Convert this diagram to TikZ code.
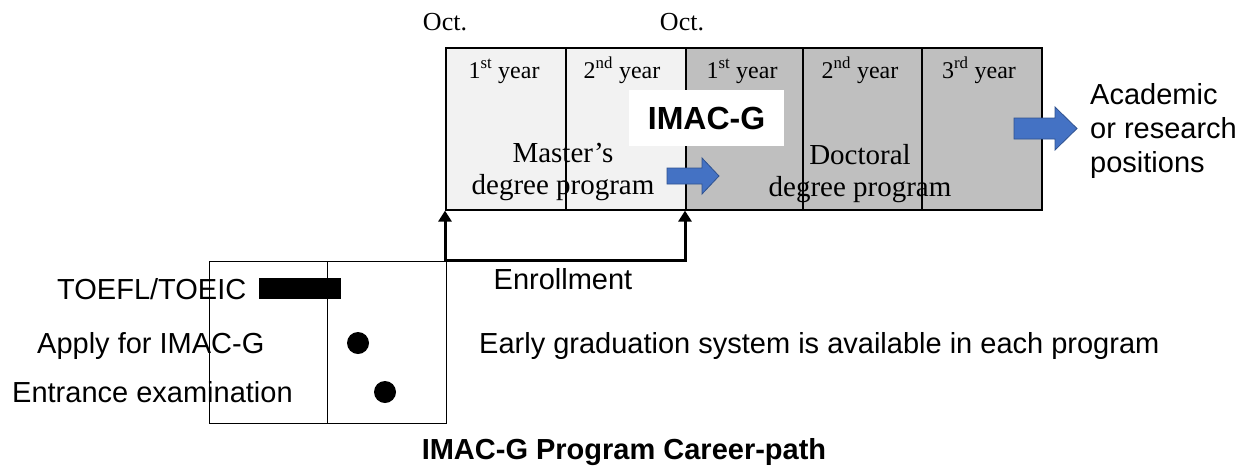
\documentclass[tikz,border=0pt]{standalone}
\usepackage{fontspec}
\setmainfont{Liberation Sans}
\newfontfamily\tnr{Liberation Serif}
\usetikzlibrary{arrows.meta}
\definecolor{msfill}{HTML}{F2F2F2}
\definecolor{drfill}{HTML}{BFBFBF}
\definecolor{blueA}{HTML}{4472C4}
\definecolor{blueB}{HTML}{2F528F}
\tikzset{
  col/.style={draw=black, line width=1.6pt, inner sep=0pt, minimum height=162pt, anchor=north west},
  lbox/.style={draw=black, line width=1.3pt, inner sep=0pt, minimum height=162pt, anchor=north west},
  yr/.style={font=\tnr\fontsize{24}{28}\selectfont, anchor=base, inner sep=0pt},
  oct/.style={font=\tnr\fontsize{26}{30}\selectfont, anchor=base, inner sep=0pt},
  prog/.style={font=\tnr\fontsize{29}{32}\selectfont, align=center, inner sep=0pt},
  sans/.style={font=\fontsize{29}{34}\selectfont, inner sep=0pt},
  dot/.style={circle, fill=black, minimum size=22pt, inner sep=0pt},
  blockarrow/.style={fill=blueA, draw=blueB, line width=0.8pt},
  enroll/.style={line width=3pt, {Triangle[width=13pt,length=11pt]}-{Triangle[width=13pt,length=11pt]}},
}
\begin{document}
\begin{tikzpicture}[x=1pt,y=-1pt]
\useasboundingbox (0,0) rectangle (1249,472);
% top timeline
\node[col, fill=msfill, minimum width=120pt] (m1) at (445,47) {};
\node[col, fill=msfill, minimum width=120pt] (m2) at (565,47) {};
\node[col, fill=drfill, minimum width=117pt] (d1) at (685,47) {};
\node[col, fill=drfill, minimum width=119pt] (d2) at (802,47) {};
\node[col, fill=drfill, minimum width=120pt] (d3) at (921,47) {};
\node[oct] (oct1) at (445,30) {Oct.};
\node[oct] (oct2) at (682,30) {Oct.};
\node[yr] (y1) at (504,78) {1\textsuperscript{st} year};
\node[yr] (y2) at (622,78) {2\textsuperscript{nd} year};
\node[yr] (y3) at (742,78) {1\textsuperscript{st} year};
\node[yr] (y4) at (860,78) {2\textsuperscript{nd} year};
\node[yr] (y5) at (979,78) {3\textsuperscript{rd} year};
\node[fill=white, minimum width=155pt, minimum height=56pt, inner sep=0pt,
      font=\bfseries\fontsize{32}{36}\selectfont] (imac) at (706.5,118) {IMAC-G};
\node[prog] (master) at (563,172) {Master’s\\degree program};
\node[prog] (doctor) at (860,174) {Doctoral\\degree program};
\fill[blockarrow] (667,168) -- (702,168) -- (702,158) -- (719,176) -- (702,194) -- (702,184) -- (667,184) -- cycle;
\fill[blockarrow] (1014,118) -- (1055,118) -- (1055,107) -- (1077,128.5) -- (1055,150) -- (1055,139) -- (1014,139) -- cycle;
\node[sans, align=left, anchor=west] (career) at (1090,131) {Academic\\or research\\positions};
% lower schedule box
\node[lbox, minimum width=118pt] (t1) at (209,261) {};
\node[lbox, minimum width=119pt] (t2) at (327,261) {};
\node[fill=black, inner sep=0pt, minimum width=82pt, minimum height=21pt, anchor=north west] (bar) at (259,278) {};
\node[dot] (dot1) at (358,343) {};
\node[dot] (dot2) at (385,392) {};
\node[sans, anchor=base west] (toefl) at (57,299) {TOEFL/TOEIC};
\node[sans, anchor=base west] (apply) at (37,353) {Apply for IMAC-G};
\node[sans, anchor=base west] (exam) at (12,402) {Entrance examination};
% enrollment connector
\coordinate (el) at (445,260);
\coordinate (er) at (685,260);
\draw[enroll] (m1.south west) -- (el) -- (er) -- (d1.south west);
\node[sans, anchor=base] (enr) at (563,289) {Enrollment};
\node[sans, anchor=base west] (early) at (479,353) {Early graduation system is available in each program};
\node[sans, anchor=base, font=\bfseries\fontsize{29}{34}\selectfont] (title) at (624,459) {IMAC-G Program Career-path};
\end{tikzpicture}
\end{document}
